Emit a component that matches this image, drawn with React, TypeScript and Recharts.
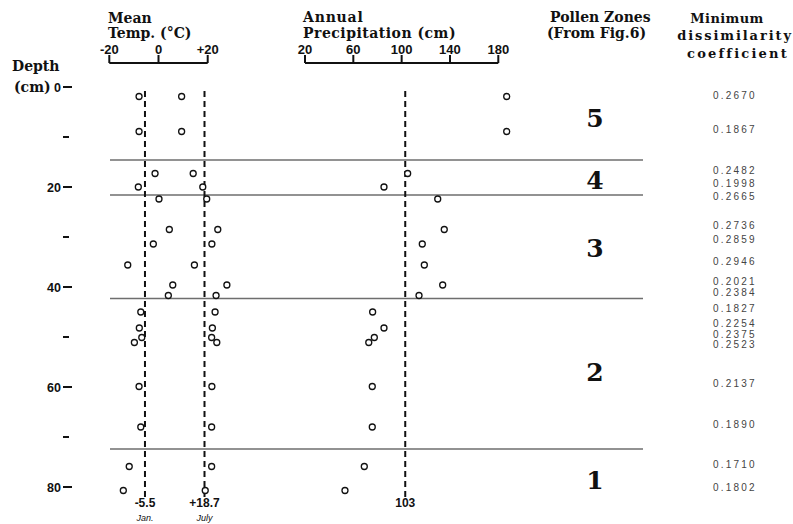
import React from 'react';
import { ComposedChart, ScatterChart, Scatter, XAxis, YAxis, ReferenceLine } from 'recharts';

// ---- data ----
const sampleDepths = [1.9, 8.9, 17.3, 20.0, 22.4, 28.5, 31.4, 35.6, 39.6, 41.7, 45.0, 48.2, 50.1, 51.1, 59.9, 68.0, 75.9, 80.7];
const janTemp = [-7.9, -7.9, -1.4, -8.2, 0.2, 4.4, -2.1, -12.5, 5.8, 4.0, -7.2, -7.8, -6.8, -9.8, -7.9, -7.2, -11.9, -14.3];
const julyTemp = [9.4, 9.4, 14.1, 18.0, 19.6, 24.1, 21.7, 14.6, 27.8, 23.4, 23.0, 21.9, 21.6, 23.7, 21.7, 21.6, 21.6, 19.0];
const precipitation = [187.0, 187.0, 105.0, 85.4, 129.9, 135.3, 117.1, 118.8, 134.0, 114.4, 76.0, 85.4, 77.4, 72.8, 75.7, 75.7, 69.1, 53.1];
const dissimilarity = ['0.2670', '0.1867', '0.2482', '0.1998', '0.2665', '0.2736', '0.2859', '0.2946', '0.2021', '0.2384', '0.1827', '0.2254', '0.2375', '0.2523', '0.2137', '0.1890', '0.1710', '0.1802'];
const dissimilarityLabelDepths = [1.6, 8.4, 16.6, 19.3, 21.9, 27.7, 30.5, 34.9, 38.9, 41.1, 44.3, 47.3, 49.4, 51.4, 59.3, 67.5, 75.4, 80.1];
const zoneBoundaries = [14.6, 21.6, 42.3, 72.4];
const zoneNames = ['5', '4', '3', '2', '1'];
const zoneLabelDepths = [6.2, 18.6, 32.2, 57.0, 78.6];
const depthTicks = [0, 10, 20, 30, 40, 50, 60, 70, 80];
const tempTicks = [-20, 0, 20];
const precipTicks = [20, 60, 100, 140, 180];
const janMean = -5.5;
const julyMean = 18.7;
const precipMean = 103;

// ---- derived tables ----
const janData = sampleDepths.map((d, i) => ({ depth: d, value: janTemp[i] }));
const julyData = sampleDepths.map((d, i) => ({ depth: d, value: julyTemp[i] }));
const precipData = sampleDepths.map((d, i) => ({ depth: d, value: precipitation[i] }));
const coefData = dissimilarity.map((c, i) => ({ depth: dissimilarityLabelDepths[i], col: 0, label: c }));
const zoneData = zoneNames.map((n, i) => ({ depth: zoneLabelDepths[i], col: 0, label: n }));
const boundaryData = zoneBoundaries.map((b) => ({ depth: b, pos: 0 }));
const tempTickData = tempTicks.map((v) => ({ value: v, depth: 0 }));
const precipTickData = precipTicks.map((v) => ({ value: v, depth: 0 }));

// ---- layout / style ----
const W = 793;
const H = 524;
const TOP = 87;
const BOTTOM = 27;
const DEPTH_DOMAIN: [number, number] = [0, 82];
const SANS = "'Liberation Sans', Arial, sans-serif";
const SERIF = "'DejaVu Serif', serif";
const INK = '#111';

const layer: React.CSSProperties = { position: 'absolute', left: 0, top: 0 };
const Nothing = () => <g />;

const DepthTick = (props: any) => {
  const { y, payload } = props;
  const major = payload.value % 20 === 0;
  return (
    <g>
      {major && (
        <text x={61} y={y} dy={4.5} textAnchor="end" fontFamily={SANS} fontWeight={700} fontSize={12.5} fill={INK}>
          {payload.value}
        </text>
      )}
      <line x1={63} x2={major ? 72 : 69} y1={y} y2={y} stroke={INK} strokeWidth={2} />
    </g>
  );
};

const Circle = (props: any) => (
  <circle cx={props.cx} cy={props.cy} r={3} fill="#fff" stroke={INK} strokeWidth={1.3} />
);

const ZoneText = (props: any) => (
  <text x={props.cx} y={props.cy} dy={9} textAnchor="middle" fontFamily={SERIF} fontWeight={700} fontSize={25} fill={INK}>
    {props.payload.label}
  </text>
);

const CoefText = (props: any) => (
  <text x={props.cx} y={props.cy} dy={3.6} textAnchor="middle" fontFamily={SANS} fontSize={10} letterSpacing={2.2} fill="#444">
    {props.payload.label}
  </text>
);

const meanLabel = (value: string, sub: string) => (p: any) => {
  const vb = p.viewBox;
  const x = vb.x;
  const yb = vb.y + vb.height;
  return (
    <g>
      <text x={x} y={yb + 10} textAnchor="middle" fontFamily={SANS} fontWeight={700} fontSize={12} fill={INK}>
        {value}
      </text>
      {sub && (
        <text x={x} y={yb + 24} textAnchor="middle" fontFamily={SANS} fontStyle="italic" fontSize={9} fill={INK}>
          {sub}
        </text>
      )}
    </g>
  );
};

const headStyle = { fontFamily: SERIF, fontWeight: 700, fontSize: 14, fill: INK } as const;

const Headers = () => (
  <g>
    <text x={12} y={71} {...headStyle}>Depth</text>
    <text x={14} y={92} {...headStyle}>(cm)</text>
    <text x={108} y={23} {...headStyle}>Mean</text>
    <text x={108} y={38} {...headStyle}>Temp. (°C)</text>
    <text x={303} y={22} {...headStyle} letterSpacing={0.8}>Annual</text>
    <text x={303} y={37.5} {...headStyle} letterSpacing={0.5}>Precipitation (cm)</text>
    <text x={550} y={22} {...headStyle}>Pollen Zones</text>
    <text x={547} y={38} {...headStyle}>(From Fig.6)</text>
    <text x={727} y={23} textAnchor="middle" {...headStyle} fontSize={13} letterSpacing={0.4}>Minimum</text>
    <text x={735} y={39.5} textAnchor="middle" {...headStyle} fontSize={13} letterSpacing={1.9}>dissimilarity</text>
    <text x={738} y={58} textAnchor="middle" {...headStyle} fontSize={13} letterSpacing={2.2}>coefficient</text>
  </g>
);

const axisTickStyle = { fill: INK, fontSize: 13, fontWeight: 700, fontFamily: SANS };

export default function App() {
  return (
    <div style={{ position: 'absolute', left: 0, top: 0, width: W, height: H, background: '#fff' }}>
      {/* base: depth axis, zone boundaries, headers */}
      <div style={layer}>
        <ComposedChart width={W} height={H} margin={{ top: TOP, bottom: BOTTOM, left: 0, right: 150 }}>
          <XAxis type="number" dataKey="pos" domain={[0, 1]} hide />
          <YAxis
            type="number"
            dataKey="depth"
            domain={DEPTH_DOMAIN}
            reversed
            ticks={depthTicks}
            interval={0}
            width={110}
            axisLine={false}
            tickLine={false}
            tick={<DepthTick />}
          />
          <Scatter data={boundaryData} shape={Nothing} isAnimationActive={false} />
          {zoneBoundaries.map((d) => (
            <ReferenceLine key={d} y={d} stroke="#6e6e6e" strokeWidth={1.5} />
          ))}
          <Headers />
        </ComposedChart>
      </div>

      {/* temperature axis */}
      <div style={layer}>
        <ScatterChart width={W} height={H} margin={{ top: 33, bottom: BOTTOM, left: 109.3, right: 585.3 }}>
          <XAxis
            type="number"
            dataKey="value"
            orientation="top"
            domain={[-20, 20]}
            ticks={tempTicks}
            interval={0}
            height={30}
            tickSize={8}
            tickMargin={1}
            allowDataOverflow
            tickFormatter={(v: number) => (v > 0 ? `+${v}` : `${v}`)}
            axisLine={{ stroke: INK, strokeWidth: 2 }}
            tickLine={{ stroke: INK, strokeWidth: 2 }}
            tick={axisTickStyle}
          />
          <YAxis type="number" dataKey="depth" domain={DEPTH_DOMAIN} reversed hide />
          <Scatter data={tempTickData} shape={Nothing} isAnimationActive={false} />
        </ScatterChart>
      </div>

      {/* temperature points */}
      <div style={layer}>
        <ScatterChart width={W} height={H} margin={{ top: TOP, bottom: BOTTOM, left: 109.3, right: 560.7 }}>
          <XAxis type="number" dataKey="value" domain={[-20, 30]} hide />
          <YAxis type="number" dataKey="depth" domain={DEPTH_DOMAIN} reversed hide />
          <ReferenceLine x={janMean} stroke={INK} strokeWidth={2} strokeDasharray="6 4" label={meanLabel('-5.5', 'Jan.')} />
          <ReferenceLine x={julyMean} stroke={INK} strokeWidth={2} strokeDasharray="6 4" label={meanLabel('+18.7', 'July')} />
          <Scatter data={janData} shape={<Circle />} isAnimationActive={false} />
          <Scatter data={julyData} shape={<Circle />} isAnimationActive={false} />
        </ScatterChart>
      </div>

      {/* precipitation axis */}
      <div style={layer}>
        <ScatterChart width={W} height={H} margin={{ top: 33, bottom: BOTTOM, left: 305, right: 294.7 }}>
          <XAxis
            type="number"
            dataKey="value"
            orientation="top"
            domain={[20, 180]}
            ticks={precipTicks}
            interval={0}
            height={30}
            tickSize={8}
            tickMargin={1}
            allowDataOverflow
            axisLine={{ stroke: INK, strokeWidth: 2 }}
            tickLine={{ stroke: INK, strokeWidth: 2 }}
            tick={axisTickStyle}
          />
          <YAxis type="number" dataKey="depth" domain={DEPTH_DOMAIN} reversed hide />
          <Scatter data={precipTickData} shape={Nothing} isAnimationActive={false} />
        </ScatterChart>
      </div>

      {/* precipitation points */}
      <div style={layer}>
        <ScatterChart width={W} height={H} margin={{ top: TOP, bottom: BOTTOM, left: 305, right: 270.6 }}>
          <XAxis type="number" dataKey="value" domain={[20, 200]} hide />
          <YAxis type="number" dataKey="depth" domain={DEPTH_DOMAIN} reversed hide />
          <ReferenceLine x={precipMean} stroke={INK} strokeWidth={2} strokeDasharray="6 4" label={meanLabel('103', '')} />
          <Scatter data={precipData} shape={<Circle />} isAnimationActive={false} />
        </ScatterChart>
      </div>

      {/* pollen zone numbers */}
      <div style={layer}>
        <ScatterChart width={W} height={H} margin={{ top: TOP, bottom: BOTTOM, left: 565, right: 168 }}>
          <XAxis type="number" dataKey="col" domain={[-1, 1]} hide />
          <YAxis type="number" dataKey="depth" domain={DEPTH_DOMAIN} reversed hide />
          <Scatter data={zoneData} shape={ZoneText} isAnimationActive={false} />
        </ScatterChart>
      </div>

      {/* dissimilarity coefficients */}
      <div style={layer}>
        <ScatterChart width={W} height={H} margin={{ top: TOP, bottom: BOTTOM, left: 715, right: 38 }}>
          <XAxis type="number" dataKey="col" domain={[-1, 1]} hide />
          <YAxis type="number" dataKey="depth" domain={DEPTH_DOMAIN} reversed hide />
          <Scatter data={coefData} shape={CoefText} isAnimationActive={false} />
        </ScatterChart>
      </div>
    </div>
  );
}
